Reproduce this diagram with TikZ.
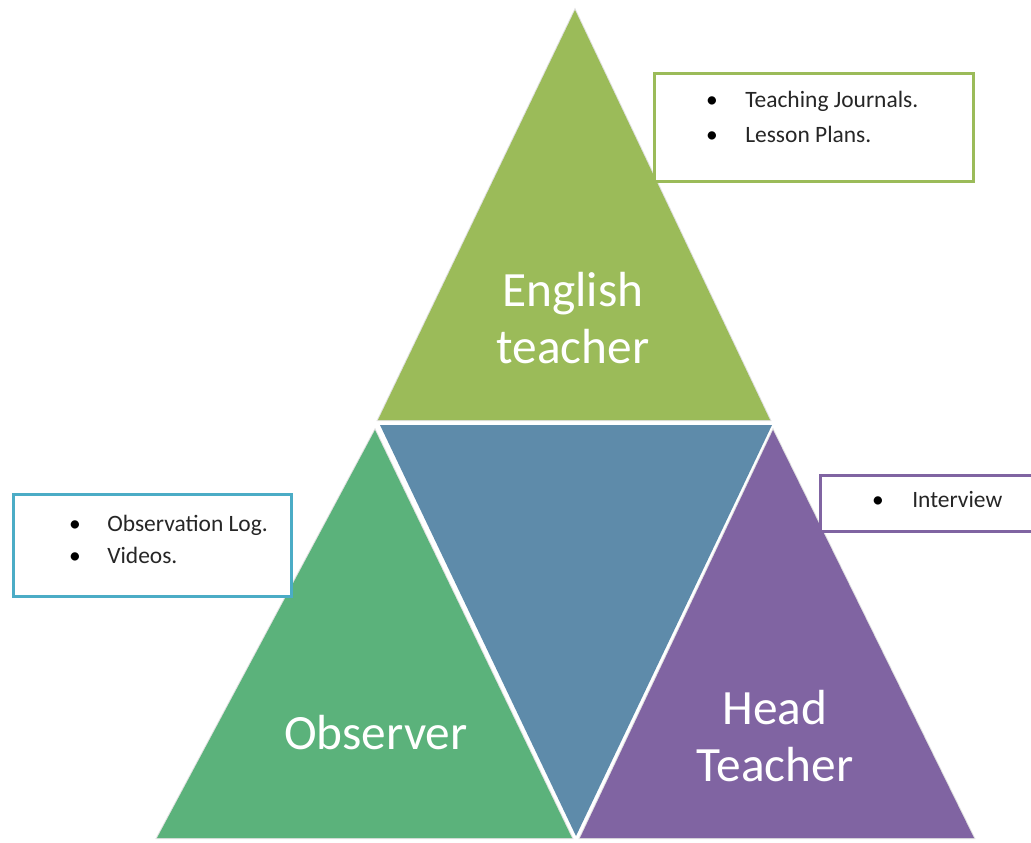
\documentclass[tikz,border=0pt]{standalone}
\usepackage{fontspec}
\setmainfont{Carlito}
\definecolor{topgreen}{RGB}{155,187,89}
\definecolor{midblue}{RGB}{94,139,170}
\definecolor{leftgreen}{RGB}{91,178,123}
\definecolor{rightpurple}{RGB}{128,100,162}
\definecolor{boxblue}{RGB}{75,172,198}
\definecolor{shadowgray}{RGB}{225,225,225}
\begin{document}
\begin{tikzpicture}[x=0.75pt,y=-0.75pt,
  tri/.style={draw=shadowgray,line width=1.5pt},
  bigtext/.style={text=white,font=\fontsize{37}{43}\selectfont,align=center,inner sep=0pt},
  infobox/.style={draw,line width=2.25pt,fill=white,anchor=north west,inner sep=0pt},
  bul/.style={font=\fontsize{17.6}{20}\selectfont,anchor=base,inner sep=0pt},
  item/.style={font=\fontsize{17.6}{20}\selectfont,anchor=base west,inner sep=0pt,text=black!85}]
\useasboundingbox (0,0) rectangle (1031,842);
% triangles (shadow outline first, then fills)
\draw[tri,fill=topgreen] (575,10) -- (378,420) -- (770,420) -- cycle;
\draw[tri,fill=leftgreen] (375,430) -- (157,838) -- (572,838) -- cycle;
\draw[tri,fill=rightpurple] (773,430) -- (580,838) -- (974,838) -- cycle;
\fill[midblue] (380,425) -- (772,425) -- (576,836) -- cycle;
\fill[topgreen] (575,10) -- (378,420) -- (770,420) -- cycle;
\fill[leftgreen] (375,430) -- (157,838) -- (572,838) -- cycle;
\fill[rightpurple] (773,430) -- (580,838) -- (974,838) -- cycle;
% main labels
\node[bigtext] (eng) at (573,318) {English\\teacher};
\node[bigtext] (obs) at (376,733) {Observer};
\node[bigtext] (head) at (775,736) {Head\\Teacher};
% box: English teacher
\node[infobox,draw=topgreen,minimum width=239pt,minimum height=81pt] (b1) at (653,72) {};
\node[bul] (b1d1) at (712,108) {\textbullet};
\node[item] (b1t1) at (745,108) {Teaching Journals.};
\node[bul] (b1d2) at (712,142) {\textbullet};
\node[item] (b1t2) at (745,142) {Lesson Plans.};
% box: Observer
\node[infobox,draw=boxblue,minimum width=208.5pt,minimum height=76.5pt] (b2) at (12,493) {};
\node[bul] (b2d1) at (75,531) {\textbullet};
\node[item] (b2t1) at (107,531) {Observation Log.};
\node[bul] (b2d2) at (75,563) {\textbullet};
\node[item] (b2t2) at (107,563) {Videos.};
% box: Head Teacher
\node[infobox,draw=rightpurple,minimum width=170pt,minimum height=42pt] (b3) at (819,474) {};
\node[bul] (b3d1) at (878,507) {\textbullet};
\node[item] (b3t1) at (912,507) {Interview};
\end{tikzpicture}
\end{document}
